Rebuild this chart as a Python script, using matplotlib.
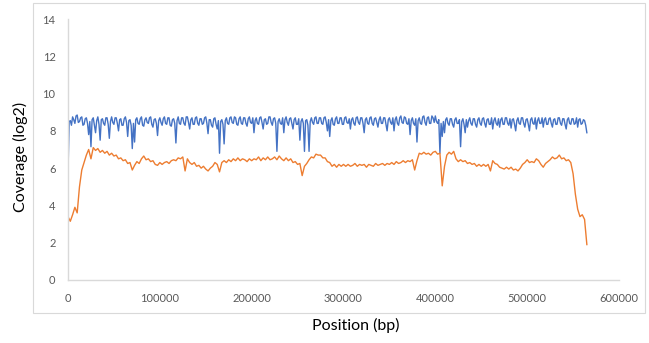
import numpy as np
import matplotlib
matplotlib.use("Agg")
import matplotlib.pyplot as plt
from matplotlib.patches import Rectangle

# Coverage along the genome: series A in 1.25 kb windows, series B in 2.5 kb windows
bin_a = 1250
bin_b = 2500

series_a = [
    5.75, 8.5, 8.55, 8.3, 8.75, 8.6, 8.4, 8.8, 8.85, 8.45, 8.5, 8.7, 8.75, 8.3, 8.35, 8.65, 8.7, 8.4, 7.8, 8.5,
    7.15, 8.6, 8.7, 8.3, 7.9, 8.55, 8.75, 8.35, 7.5, 8.6, 8.65, 8.4, 8.3, 8.7, 8.7, 8.35, 7.6, 8.5, 8.75, 8.45,
    8.35, 8.7, 8.7, 8.4, 8.0, 8.6, 8.65, 8.3, 8.3, 8.65, 8.75, 8.45, 7.7, 8.55, 8.6, 8.3, 7.05, 8.4, 7.4, 8.6,
    8.7, 8.4, 8.35, 8.65, 8.75, 8.3, 8.25, 8.6, 8.7, 8.45, 8.4, 8.7, 8.75, 8.35, 8.2, 8.6, 8.65, 8.4, 7.75, 8.55,
    8.7, 8.45, 8.3, 8.65, 8.75, 8.4, 8.35, 8.7, 8.7, 8.3, 8.25, 8.6, 8.65, 8.4, 7.35, 8.55, 8.75, 8.4, 8.35, 8.7,
    8.7, 8.4, 8.3, 8.75, 8.75, 8.45, 8.1, 8.6, 8.7, 8.35, 8.35, 8.7, 8.75, 8.4, 8.3, 8.65, 8.65, 8.35, 8.4, 8.7,
    8.75, 8.4, 7.85, 8.6, 8.6, 8.3, 8.2, 8.65, 8.7, 8.35, 8.1, 8.55, 6.8, 8.5, 8.6, 8.35, 7.3, 8.55, 8.7, 8.4,
    8.35, 8.7, 8.75, 8.45, 8.4, 8.75, 8.7, 8.35, 8.3, 8.65, 8.75, 8.4, 8.35, 8.7, 8.7, 8.4, 8.25, 8.65, 8.75, 8.45,
    8.4, 8.7, 7.9, 8.55, 8.7, 8.4, 8.35, 8.7, 8.75, 8.45, 8.1, 8.6, 8.65, 8.35, 8.4, 8.75, 8.75, 8.45, 8.3, 8.65,
    8.7, 8.4, 6.9, 8.5, 8.65, 8.4, 8.35, 8.7, 7.9, 8.6, 8.75, 8.45, 8.3, 8.65, 8.7, 8.4, 8.1, 8.6, 8.7, 8.35,
    8.35, 8.65, 7.5, 8.5, 8.65, 8.4, 6.9, 8.55, 8.6, 8.3, 6.9, 8.5, 8.7, 8.45, 8.35, 8.7, 8.75, 8.4, 8.4, 8.7,
    8.7, 8.4, 8.35, 8.7, 8.75, 8.45, 8.0, 8.6, 7.7, 8.55, 8.7, 8.35, 8.3, 8.65, 8.75, 8.4, 8.4, 8.7, 8.7, 8.35,
    8.35, 8.7, 8.75, 8.45, 8.4, 8.65, 8.1, 8.6, 8.7, 8.4, 8.3, 8.7, 8.75, 8.45, 8.35, 8.7, 8.7, 8.4, 7.9, 8.6,
    8.7, 8.4, 8.35, 8.7, 8.75, 8.4, 8.3, 8.65, 8.7, 8.45, 8.2, 8.6, 8.75, 8.4, 8.4, 8.7, 8.7, 8.35, 8.0, 8.6,
    8.7, 8.45, 8.35, 8.7, 8.0, 8.6, 8.75, 8.4, 8.3, 8.7, 8.8, 8.45, 8.4, 8.75, 8.7, 8.4, 8.35, 8.65, 7.8, 8.55,
    8.7, 8.4, 8.3, 8.65, 7.4, 8.55, 8.7, 8.4, 8.35, 8.75, 8.8, 8.45, 8.3, 8.7, 8.75, 8.4, 8.4, 8.8, 8.7, 8.45,
    8.8, 8.5, 8.4, 8.6, 6.8, 8.4, 7.7, 8.5, 7.9, 8.6, 8.7, 8.4, 8.3, 8.65, 8.65, 8.35, 8.2, 8.6, 8.7, 8.4,
    8.4, 8.6, 7.15, 8.5, 8.65, 8.35, 7.9, 8.6, 8.2, 8.55, 8.7, 8.4, 8.3, 8.65, 8.65, 8.35, 8.2, 8.6, 8.7, 8.4,
    8.3, 8.65, 8.7, 8.4, 8.2, 8.6, 8.65, 8.35, 8.35, 8.7, 8.1, 8.55, 8.7, 8.4, 8.3, 8.65, 8.2, 8.6, 8.7, 8.35,
    8.35, 8.7, 8.7, 8.4, 8.3, 8.65, 8.15, 8.6, 8.65, 8.35, 8.0, 8.55, 8.7, 8.4, 8.35, 8.7, 8.7, 8.4, 8.2, 8.6,
    8.65, 8.35, 8.0, 8.6, 8.7, 8.4, 8.35, 8.7, 8.1, 8.55, 8.7, 8.4, 8.4, 8.7, 8.2, 8.6, 8.7, 8.35, 8.35, 8.65,
    8.7, 8.4, 8.2, 8.6, 8.65, 8.35, 8.35, 8.7, 8.7, 8.4, 8.3, 8.65, 8.65, 8.35, 8.1, 8.6, 8.7, 8.4, 8.35, 8.65,
    8.65, 8.35, 8.4, 8.7, 8.2, 8.6, 8.65, 8.35, 8.4, 8.6, 8.55, 8.3, 7.9,
]

series_b = [
    3.4, 3.15, 3.5, 3.9, 3.6, 5.0, 5.9, 6.3, 6.7, 7.0,
    6.5, 7.1, 6.95, 7.05, 6.85, 6.95, 6.8, 6.9, 6.7, 6.8,
    6.65, 6.7, 6.5, 6.55, 6.4, 6.45, 6.25, 6.3, 5.9, 6.15,
    6.35, 6.25, 6.5, 6.65, 6.45, 6.5, 6.35, 6.4, 6.2, 6.15,
    6.3, 6.2, 6.3, 6.35, 6.25, 6.4, 6.45, 6.4, 6.55, 6.5,
    6.6, 5.85, 6.5, 6.3, 6.2, 6.3, 6.1, 6.15, 6.0, 6.1,
    5.95, 5.85, 6.0, 6.1, 6.3, 6.2, 5.8, 6.3, 6.4, 6.3,
    6.45, 6.35, 6.5, 6.4, 6.55, 6.4, 6.5, 6.45, 6.35, 6.5,
    6.4, 6.5, 6.45, 6.6, 6.4, 6.55, 6.45, 6.6, 6.45, 6.5,
    6.6, 6.45, 6.65, 6.5, 6.4, 6.55, 6.4, 6.5, 6.3, 6.35,
    6.2, 6.25, 5.6, 6.1, 6.25, 6.45, 6.6, 6.55, 6.75, 6.7,
    6.7, 6.55, 6.55, 6.35, 6.3, 6.1, 6.2, 6.05, 6.2, 6.1,
    6.2, 6.1, 6.2, 6.1, 6.15, 6.25, 6.1, 6.2, 6.15, 6.2,
    6.05, 6.2, 6.15, 6.1, 6.25, 6.15, 6.2, 6.25, 6.15, 6.25,
    6.2, 6.3, 6.2, 6.35, 6.25, 6.3, 6.4, 6.3, 6.4, 6.35,
    6.45, 5.9, 6.4, 6.8, 6.75, 6.85, 6.75, 6.8, 6.7, 6.85,
    6.9, 6.75, 6.8, 5.05, 6.1, 6.7, 6.85, 6.75, 6.9, 6.5,
    6.35, 6.45, 6.35, 6.4, 6.25, 6.3, 6.2, 6.25, 6.1, 6.2,
    6.1, 6.2, 6.1, 6.2, 5.85, 6.4, 6.25, 6.2, 6.05, 6.0,
    5.95, 6.05, 5.95, 6.05, 5.9, 5.95, 5.85, 6.0, 6.2, 6.3,
    6.45, 6.3, 6.35, 6.3, 6.5, 6.4, 6.2, 6.05, 6.25, 6.35,
    6.45, 6.6, 6.5, 6.55, 6.7, 6.5, 6.55, 6.4, 6.45, 6.3,
    5.7, 4.6, 3.8, 3.4, 3.5, 3.25, 1.9,
]

positions_a = np.arange(len(series_a)) * bin_a
positions_b = np.arange(len(series_b)) * bin_b

y_ticks = [0, 2, 4, 6, 8, 10, 12, 14]
x_ticks = [0, 100000, 200000, 300000, 400000, 500000, 600000]

plt.rcParams["font.family"] = ["Lato", "DejaVu Sans"]

W, H = 649, 343
fig = plt.figure(figsize=(W / 100, H / 100), dpi=100)
ax = fig.add_axes([68 / W, 1 - 280 / H, (619 - 68) / W, (280 - 19) / H])

ax.plot(positions_a, series_a, color="#4472C4", lw=1.0)
ax.plot(positions_b, series_b, color="#ED7D31", lw=1.0)

ax.set_xlim(0, 600000)
ax.set_ylim(0, 14)
ax.set_xticks(x_ticks)
ax.set_xticklabels([str(v) for v in x_ticks])
ax.set_yticks(y_ticks)
ax.set_yticklabels([str(v) for v in y_ticks])
ax.tick_params(length=0, labelsize=8, labelcolor="#595959")
ax.tick_params(axis="y", pad=9)
ax.tick_params(axis="x", pad=9)

for side in ("top", "right"):
    ax.spines[side].set_visible(False)
for side in ("left", "bottom"):
    ax.spines[side].set_color("#D9D9D9")
    ax.spines[side].set_linewidth(1.0)

fig.text(20 / W, 1 - 157 / H, "Coverage (log2)", rotation=90,
         ha="center", va="center", fontsize=11.5, color="black")
fig.text(356 / W, 1 - 325 / H, "Position (bp)",
         ha="center", va="center", fontsize=11.5, color="black")

fig.patches.append(Rectangle((33 / W, 1 - 313 / H), (645 - 33) / W, (313 - 3) / H,
                             transform=fig.transFigure, fill=False,
                             edgecolor="#D9D9D9", lw=0.8))

fig.savefig("out.png", dpi=100)
